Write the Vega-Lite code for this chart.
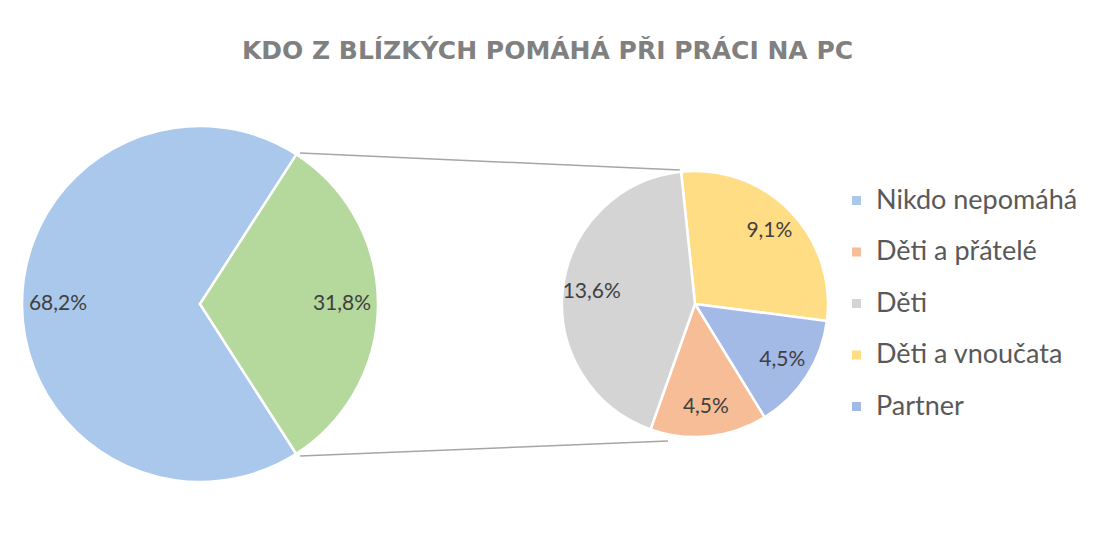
{
  "$schema": "https://vega.github.io/schema/vega-lite/v6.json",
  "background": "white",
  "padding": {"left": 17, "top": 39, "right": 0, "bottom": 0},
  "title": {"text": "KDO Z BLÍZKÝCH POMÁHÁ PŘI PRÁCI NA PC", "font": "DejaVu Sans", "fontSize": 25, "fontWeight": "bold", "color": "#808080", "anchor": "middle", "offset": 57},
  "config": {"view": {"stroke": null}, "font": "Lato"},
  "bounds": "flush",
  "spacing": 184,
  "datasets": {
    "main": [
      {"category": "Nikdo nepomáhá", "pct": 68.2, "label": "68,2%"},
      {"category": "Ostatní", "pct": 31.8, "label": "31,8%"}
    ],
    "detail": [
      {"category": "Děti a vnoučata", "pct": 9.1, "label": "9,1%"},
      {"category": "Partner", "pct": 4.5, "label": "4,5%"},
      {"category": "Děti a přátelé", "pct": 4.5, "label": "4,5%"},
      {"category": "Děti", "pct": 13.6, "label": "13,6%"}
    ]
  },
  "hconcat": [
    {
      "width": 356,
      "height": 356,
      "data": {"name": "main"},
      "transform": [{"window": [{"op": "row_number", "as": "rank"}]}],
      "encoding": {
        "theta": {"field": "pct", "type": "quantitative", "stack": true, "scale": {"range": [2.571, 8.854]}},
        "order": {"field": "rank", "type": "quantitative"}
      },
      "layer": [
        {
          "mark": {"type": "arc", "stroke": "white", "strokeWidth": 2.5},
          "encoding": {
            "color": {"field": "category", "type": "nominal", "legend": null,
              "scale": {"domain": ["Nikdo nepomáhá", "Ostatní"], "range": ["#a9c8ec", "#b5d89c"]}}
          }
        },
        {
          "mark": {"type": "text", "radius": 142, "fontSize": 21, "font": "Lato", "color": "#404040"},
          "encoding": {"text": {"field": "label", "type": "nominal"}}
        }
      ]
    },
    {
      "width": 266,
      "height": 356,
      "data": {"name": "detail"},
      "transform": [{"window": [{"op": "row_number", "as": "rank"}]}],
      "layer": [
        {
          "data": {"values": [{}]},
          "mark": {"type": "rule", "color": "#a6a6a6", "strokeWidth": 1.5},
          "encoding": {"x": {"value": -262}, "y": {"value": 27}, "x2": {"value": 118}, "y2": {"value": 44}}
        },
        {
          "data": {"values": [{}]},
          "mark": {"type": "rule", "color": "#a6a6a6", "strokeWidth": 1.5},
          "encoding": {"x": {"value": -262}, "y": {"value": 330}, "x2": {"value": 106}, "y2": {"value": 315}}
        },
        {
          "mark": {"type": "arc", "stroke": "white", "strokeWidth": 2.5, "outerRadius": 133},
          "encoding": {
            "theta": {"field": "pct", "type": "quantitative", "stack": true, "scale": {"range": [-0.105, 6.178]}},
            "order": {"field": "rank", "type": "quantitative"},
            "color": {"field": "category", "type": "nominal",
              "scale": {"domain": ["Nikdo nepomáhá", "Děti a přátelé", "Děti", "Děti a vnoučata", "Partner"],
                "range": ["#a9c8ec", "#f6bd96", "#d4d4d4", "#ffdd85", "#a3b9e6"]},
              "legend": {"orient": "none", "legendX": 281, "legendY": 61, "title": null, "symbolType": "square", "symbolSize": 81, "symbolStrokeWidth": 0, "symbolOpacity": 1, "labelFontSize": 27, "labelFont": "Lato", "labelColor": "#595959", "labelLimit": 0, "rowPadding": 23.5, "labelOffset": 6}}
          }
        },
        {
          "mark": {"type": "text", "radius": 104, "fontSize": 21, "font": "Lato", "color": "#404040"},
          "encoding": {
            "theta": {"field": "pct", "type": "quantitative", "stack": true, "scale": {"range": [-0.105, 6.178]}},
            "order": {"field": "rank", "type": "quantitative"},
            "text": {"field": "label", "type": "nominal"}
          }
        }
      ]
    }
  ],
  "resolve": {"scale": {"color": "independent", "theta": "independent"}}
}
